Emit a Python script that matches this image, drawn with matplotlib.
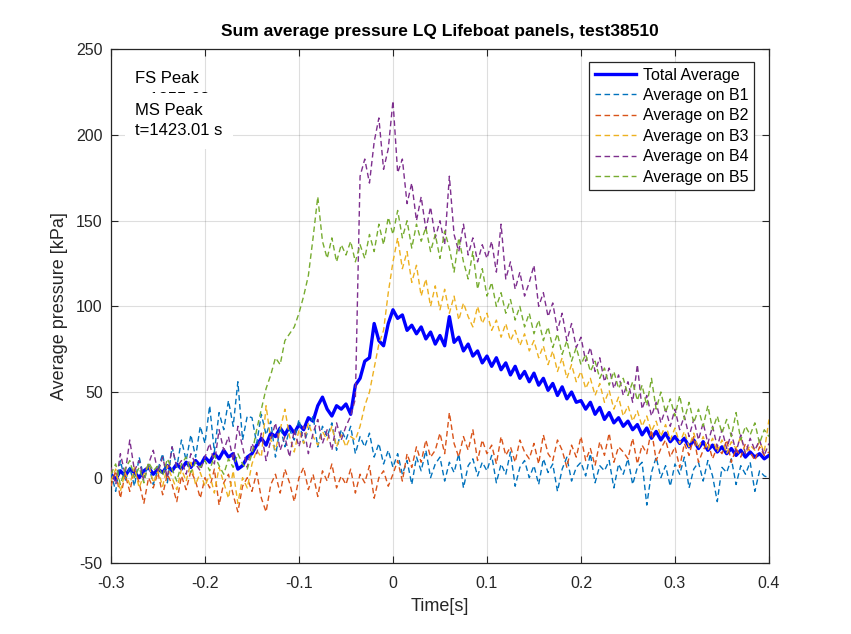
import numpy as np
import matplotlib
matplotlib.use("Agg")
import matplotlib.pyplot as plt

plt.rcParams['font.family'] = ['Liberation Sans', 'DejaVu Sans']
plt.rcParams['axes.unicode_minus'] = False

# time axis: -0.3 s to 0.4 s in 5 ms steps (141 samples)
t_start, t_step, n_pts = -0.3, 0.005, 141
time_s = [round(t_start + t_step * i, 3) for i in range(n_pts)]

total_avg = [2, -1, 4, 1, 5, 3, 0, 4, 6, 2,
             5, 3, 7, 4, 8, 5, 9, 6, 10, 7,
             12, 9, 14, 11, 16, 12, 14, 5, 7, 12,
             14, 19, 23, 19, 26, 24, 29, 25, 30, 26,
             31, 28, 35, 33, 42, 47, 40, 36, 42, 40,
             43, 37, 54, 58, 68, 70, 90, 80, 77, 90,
             98, 93, 95, 86, 89, 84, 88, 81, 85, 78,
             83, 77, 94, 79, 82, 74, 78, 71, 74, 67,
             71, 65, 70, 63, 67, 60, 65, 58, 62, 56,
             61, 54, 58, 51, 55, 48, 53, 46, 50, 44,
             45, 40, 44, 37, 41, 34, 38, 32, 35, 30,
             33, 28, 31, 25, 29, 23, 27, 22, 26, 21,
             24, 20, 23, 18, 22, 17, 21, 16, 19, 15,
             18, 14, 17, 13, 16, 12, 15, 12, 14, 11, 13]

avg_b1 = [3, -8, 10, -2, 6, -5, 12, 0, 8, -4,
          5, 14, -3, 18, 6, 22, 10, 25, 12, 30,
          20, 42, 15, 38, 28, 45, 30, 56, 22, 36,
          35, 20, 37, 25, 33, 12, 30, 18, 28, 22,
          34, 20, 28, 36, 18, 30, 24, 32, 16, 28,
          22, 30, 14, 24, 18, 26, 12, 20, 8, 16,
          6, 14, 2, 10, -4, 12, 4, 16, 0, 8,
          12, -2, 9, 3, 14, -6, 7, 11, 1, 9,
          4, 13, -3, 8, 2, 15, -5, 6, 10, 0,
          7, -4, 11, 3, 8, -8, 5, 12, -2, 6,
          9, 1, 14, -3, 7, 4, 10, -6, 8, 2,
          11, -4, 6, 9, -16, 3, 12, 0, 7, -5,
          8, 2, 12, -6, 5, 9, -2, 10, 1, -14,
          6, 3, 11, -4, 7, 2, 9, -8, 4, 1, 0]

avg_b2 = [-5, 4, -12, 2, -8, 5, -3, -15, 0, -6,
          3, -10, 2, -4, -14, 1, -7, 4, -2, -12,
          0, -6, 5, -16, -3, 2, -10, -20, -5, 0,
          -8, 3, -12, -20, -4, 2, -9, 5, -3, -14,
          0, 6, -7, 2, -11, 4, -2, 8, -6, 1,
          -4, 5, -9, 2, -3, 7, -12, 0, 4, -5,
          2, 10, -2, 14, 6, 18, 9, 22, 12, 16,
          26, 14, 38, 20, 12, 24, 16, 28, 10, 22,
          14, 19, 8, 24, 13, 18, 9, 22, 15, 11,
          20, 8, 25, 14, 10, 22, 16, 6, 19, 12,
          24, 10, 17, 7, 21, 13, 26, 9, 18, 15,
          11, 23, 8, 19, 14, 28, 10, 17, 22, 12,
          18, 6, 20, 13, 24, 9, 16, 21, 11, 18,
          14, 22, 9, 17, 12, 20, 15, 10, 18, 13, 15]

avg_b3 = [-2, 5, -8, 3, -4, 6, -6, 2, 8, -3,
          4, -5, 7, 0, -7, 5, -2, 9, -4, 3,
          -5, 2, -9, 6, -3, -12, 4, -15, 0, -6,
          8, 16, 12, 42, 22, 16, 28, 40, 24, 15,
          28, 20, 32, 24, 19, 27, 22, 30, 18, 25,
          18, 24, 22, 30, 42, 50, 64, 78, 86, 108,
          126, 140, 122, 132, 114, 124, 106, 116, 100, 112,
          98, 110, 96, 106, 92, 102, 94, 88, 100, 90,
          96, 86, 92, 82, 90, 80, 86, 77, 84, 74,
          80, 70, 77, 66, 74, 62, 70, 58, 66, 56,
          62, 52, 58, 48, 55, 44, 51, 40, 47, 36,
          42, 33, 39, 30, 36, 27, 33, 24, 31, 22,
          29, 20, 27, 18, 26, 17, 24, 16, 23, 15,
          22, 14, 21, 17, 24, 14, 19, 16, 21, 15, 34]

avg_b4 = [6, -4, 14, 2, 22, 4, 10, -2, 8, 16,
          3, 12, 0, 18, 6, 10, 2, 14, 8, 4,
          12, 20, 8, 28, 16, 24, 10, 30, 18, 6,
          20, 14, 26, 10, 22, 32, 16, 24, 12, 28,
          18, 30, 14, 26, 34, 20, 28, 16, 32, 22,
          30, 36, 46, 176, 186, 172, 196, 210, 180, 192,
          220, 178, 186, 160, 172, 150, 164, 145, 158, 140,
          150, 136, 176, 142, 132, 148, 130, 140, 126, 136,
          128, 138, 120, 148, 116, 126, 110, 120, 106, 114,
          124, 100, 108, 94, 102, 86, 96, 80, 90, 76,
          82, 68, 76, 62, 70, 56, 64, 52, 60, 48,
          56, 44, 66, 40, 48, 36, 44, 32, 40, 30,
          40, 28, 36, 24, 34, 22, 32, 20, 30, 18,
          28, 17, 26, 15, 25, 14, 23, 16, 22, 13, 20]

avg_b5 = [2, 8, -4, 5, 10, 0, 6, -3, 9, 4,
          7, 1, 11, 5, -2, 8, 12, 3, 9, 6,
          10, 4, 13, 7, 2, 11, 6, 14, 8, 5,
          14, 28, 40, 52, 60, 70, 66, 80, 84, 88,
          96, 106, 118, 140, 164, 138, 128, 140, 126, 136,
          130, 138, 126, 136, 128, 142, 132, 148, 136, 152,
          142, 156, 140, 150, 134, 148, 138, 146, 132, 142,
          128, 144, 134, 120, 140, 126, 116, 132, 110, 122,
          106, 114, 100, 108, 96, 104, 92, 100, 88, 96,
          84, 92, 80, 88, 76, 84, 72, 80, 68, 76,
          66, 72, 62, 68, 58, 64, 54, 62, 52, 58,
          48, 56, 45, 54, 42, 58, 40, 50, 38, 46,
          36, 48, 34, 44, 32, 40, 30, 42, 28, 36,
          26, 34, 24, 38, 22, 30, 25, 32, 20, 28, 24]

series_labels = ['Total Average', 'Average on B1', 'Average on B2',
                 'Average on B3', 'Average on B4', 'Average on B5']
series_colors = ['#0000FF', '#0072BD', '#D95319', '#EDB120', '#7E2F8E', '#77AC30']

x_ticks = [-0.3, -0.2, -0.1, 0, 0.1, 0.2, 0.3, 0.4]
x_tick_labels = ['-0.3', '-0.2', '-0.1', '0', '0.1', '0.2', '0.3', '0.4']
y_ticks = [-50, 0, 50, 100, 150, 200, 250]

fig = plt.figure(figsize=(8.51, 6.34), dpi=100)
ax = fig.add_axes([0.1304, 0.1115, 0.7732, 0.8105])

ax.plot(time_s, total_avg, color=series_colors[0], lw=2.4, label=series_labels[0], zorder=3)
for vals, lab, col in zip([avg_b1, avg_b2, avg_b3, avg_b4, avg_b5],
                          series_labels[1:], series_colors[1:]):
    ax.plot(time_s, vals, color=col, lw=1.0, ls=(0, (4, 2.5)), label=lab, zorder=3)

ax.set_xlim(-0.3, 0.4)
ax.set_ylim(-50, 250)
ax.set_xticks(x_ticks)
ax.set_xticklabels(x_tick_labels)
ax.set_yticks(y_ticks)

ax.grid(True, color='#262626', alpha=0.15, lw=0.8)
ax.set_axisbelow(True)
for sp in ax.spines.values():
    sp.set_color('#262626')
    sp.set_linewidth(0.9)
ax.tick_params(direction='in', length=5, width=0.8, colors='#262626',
               labelsize=11.5, top=True, right=True)
ax.tick_params(axis='x', pad=9)
ax.tick_params(axis='y', pad=6)

ax.set_title('Sum average pressure LQ Lifeboat panels, test38510',
             fontsize=12.5, fontweight='bold', color='black', pad=10)
ax.set_xlabel('Time[s]', fontsize=13, color='#262626', labelpad=5)
ax.set_ylabel('Average pressure [kPa]', fontsize=13, color='#262626', labelpad=6)

leg = ax.legend(loc='upper right', bbox_to_anchor=(0.977, 0.9757), borderaxespad=0,
                fontsize=11.5, frameon=True, fancybox=False, framealpha=1,
                edgecolor='#262626', handlelength=2.6, handletextpad=0.4,
                labelspacing=0.34, borderpad=0.35)
leg.get_frame().set_linewidth(0.9)
leg.set_zorder(10)

# peak annotations (the MS box hides most of the FS time line, as in the source)
ax.text(-0.2745, 227, 'FS Peak\nt=1855.63 s', fontsize=12, va='center', ha='left',
        linespacing=1.45, zorder=6, color='black')
ax.text(-0.2745, 208.5, 'MS Peak\nt=1423.01 s', fontsize=12, va='center', ha='left',
        linespacing=1.45, zorder=7, color='black',
        bbox=dict(facecolor='white', edgecolor='none', pad=7.5))

fig.savefig('out.png', dpi=100)
